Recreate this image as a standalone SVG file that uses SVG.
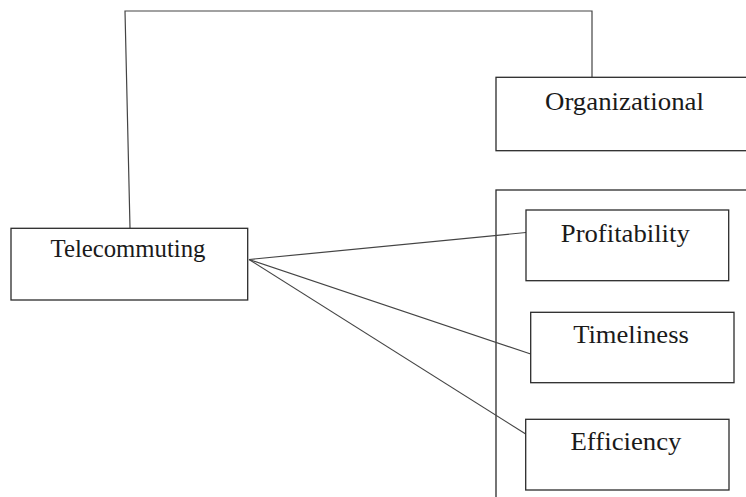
<svg xmlns="http://www.w3.org/2000/svg" width="746" height="497" viewBox="0 0 746 497">
<style>
.box{fill:#fff;stroke:#2b2b2b;stroke-width:1.3}
.frame{fill:none;stroke:#2b2b2b;stroke-width:1.3}
.lbl{font-family:"Liberation Serif","Times New Roman",serif;font-size:25px;fill:#1a1a1a;text-anchor:middle}
.conn{fill:none;stroke:#444;stroke-width:1.2}
</style>
<rect width="746" height="497" fill="#fff"/>
<g id="container">
<rect class="frame" x="496" y="190" width="260" height="320"/>
</g>
<g id="connectors">
<polyline class="conn" points="130,228 125,11 592,11 592,77"/>
<line class="conn" x1="249" y1="259.5" x2="526" y2="232.5"/>
<line class="conn" x1="249" y1="259.5" x2="530.7" y2="354"/>
<line class="conn" x1="249" y1="259.5" x2="525.7" y2="434"/>
</g>
<g id="telecommuting">
<rect class="box" x="11" y="228.3" width="236.7" height="71.7"/>
<text class="lbl" x="128" y="256.5" textLength="155" lengthAdjust="spacingAndGlyphs">Telecommuting</text>
</g>
<g id="organizational">
<rect class="box" x="496" y="77.3" width="260" height="73.4"/>
<text class="lbl" x="624.5" y="110" textLength="159" lengthAdjust="spacingAndGlyphs">Organizational</text>
</g>
<g id="profitability">
<rect class="box" x="526" y="210" width="202.7" height="70.7"/>
<text class="lbl" x="625.3" y="242.3" textLength="129" lengthAdjust="spacingAndGlyphs">Profitability</text>
</g>
<g id="timeliness">
<rect class="box" x="530.7" y="312.3" width="203.3" height="70.4"/>
<text class="lbl" x="631" y="342.7" textLength="115.7" lengthAdjust="spacingAndGlyphs">Timeliness</text>
</g>
<g id="efficiency">
<rect class="box" x="525.7" y="419.3" width="203.3" height="70.7"/>
<text class="lbl" x="626" y="450" textLength="111" lengthAdjust="spacingAndGlyphs">Efficiency</text>
</g>
</svg>
